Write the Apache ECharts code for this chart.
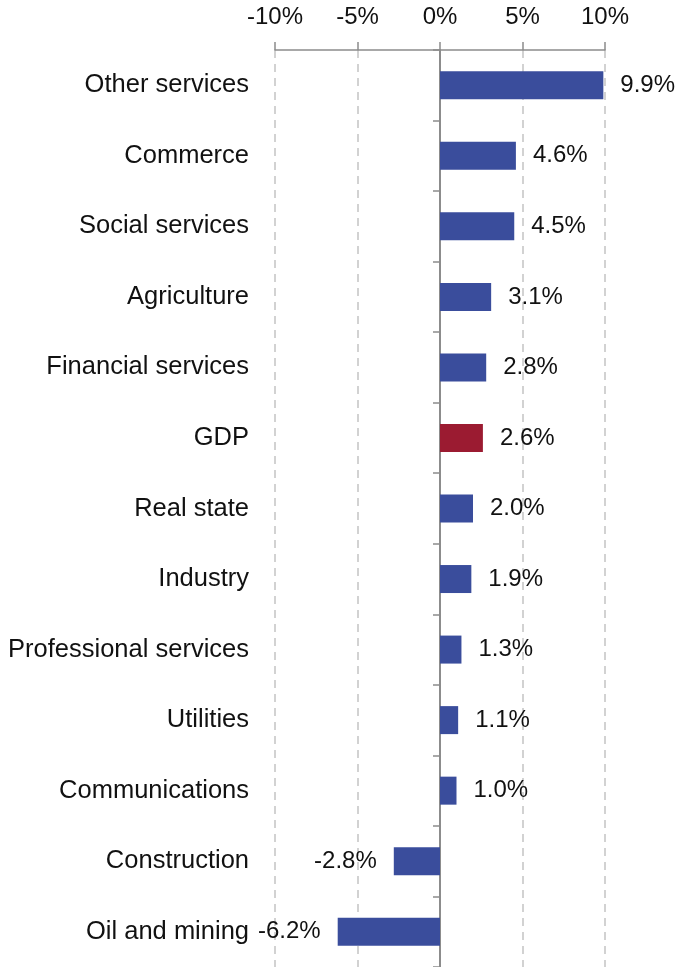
<!DOCTYPE html>
<html><head><meta charset="utf-8">
<script src="https://cdn.jsdelivr.net/npm/echarts@6/dist/echarts.min.js"></script>
<style>html,body{margin:0;padding:0;background:#fff}#c{width:684px;height:967px}</style>
</head><body><div id="c"></div>
<script>
const categories = ["Other services","Commerce","Social services","Agriculture","Financial services","GDP","Real state","Industry","Professional services","Utilities","Communications","Construction","Oil and mining"];
const values = [9.9,4.6,4.5,3.1,2.8,2.6,2.0,1.9,1.3,1.1,1.0,-2.8,-6.2];
const xTicks = [-10,-5,0,5,10];
const highlight = "GDP";
const FONT = "Liberation Sans";
const chart = echarts.init(document.getElementById('c'), null, {renderer:'canvas'});
const axisGray = '#8c8c8c';
chart.setOption({
  animation:false,
  grid:{left:275,right:79,top:50,bottom:0,containLabel:false},
  xAxis:{type:'value',position:'top',min:xTicks[0],max:xTicks[xTicks.length-1],interval:5,
    axisLine:{show:true,onZero:false,lineStyle:{color:axisGray,width:1.5}},
    axisTick:{show:true,length:8,inside:false,lineStyle:{color:axisGray,width:1.5}},
    axisLabel:{margin:21,fontFamily:FONT,fontSize:24,color:'#111',formatter:v=>v+'%'},
    splitLine:{show:true,lineStyle:{type:[8,6],color:'#c4c4c4',width:1.5}}},
  yAxis:[
    {type:'category',data:categories,inverse:true,position:'left',
     axisLine:{show:false,onZero:false},axisTick:{show:false},
     axisLabel:{margin:26,fontFamily:FONT,fontSize:25.5,color:'#111'}},
    {type:'category',data:categories,inverse:true,position:'left',
     axisLine:{show:true,onZero:true,lineStyle:{color:axisGray,width:2}},
     axisTick:{show:true,length:7,lineStyle:{color:axisGray,width:1.5}},
     axisLabel:{show:false}}
  ],
  series:[{type:'bar',yAxisIndex:0,barWidth:28,
    data:values.map((v,i)=>({value:v,itemStyle:{color:categories[i]===highlight?'#9b1b31':'#3a4d9c'},
      label:{position:v<0?'left':'right'}})),
    label:{show:true,distance:17,fontFamily:FONT,fontSize:24,color:'#111',formatter:p=>p.value.toFixed(1)+'%'}}]
});
</script></body></html>
